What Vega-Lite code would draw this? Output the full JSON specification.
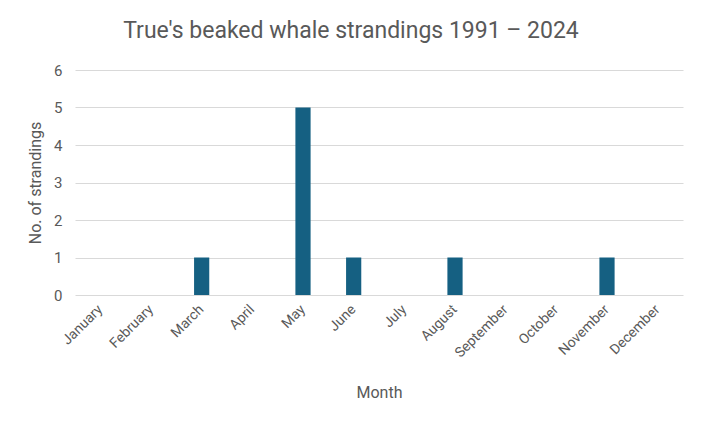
{
  "$schema": "https://vega.github.io/schema/vega-lite/v6.json",
  "autosize": "none",
  "width": 608,
  "height": 225,
  "padding": {"left": 75, "top": 70, "right": 21, "bottom": 131},
  "background": "white",
  "title": {
    "text": "True's beaked whale strandings 1991 – 2024",
    "fontSize": 23,
    "font": "Roboto",
    "fontWeight": "normal",
    "color": "#595959",
    "anchor": "middle",
    "dx": -28,
    "offset": 20
  },
  "data": {
    "values": [
      {"month": "January", "n": 0},
      {"month": "February", "n": 0},
      {"month": "March", "n": 1},
      {"month": "April", "n": 0},
      {"month": "May", "n": 5},
      {"month": "June", "n": 1},
      {"month": "July", "n": 0},
      {"month": "August", "n": 1},
      {"month": "September", "n": 0},
      {"month": "October", "n": 0},
      {"month": "November", "n": 1},
      {"month": "December", "n": 0}
    ]
  },
  "mark": {"type": "bar", "color": "#156082"},
  "encoding": {
    "x": {
      "field": "month",
      "type": "nominal",
      "sort": null,
      "scale": {"paddingInner": 0.7, "paddingOuter": 0.35},
      "axis": {
        "title": "Month",
        "labelAngle": -45,
        "labelAlign": "right",
        "labelBaseline": "middle",
        "labelFontSize": 14,
        "labelColor": "#595959",
        "labelFont": "Roboto",
        "labelPadding": 12,
        "titleFontSize": 16,
        "titleFont": "Roboto",
        "titleFontWeight": "normal",
        "titleColor": "#595959",
        "titlePadding": 25,
        "domain": false,
        "ticks": false,
        "grid": false
      }
    },
    "y": {
      "field": "n",
      "type": "quantitative",
      "scale": {"domain": [0, 6]},
      "axis": {
        "title": "No. of strandings",
        "values": [0, 1, 2, 3, 4, 5, 6],
        "labelFontSize": 15,
        "labelColor": "#595959",
        "labelFont": "Roboto",
        "labelPadding": 13,
        "titleFontSize": 16,
        "titleFont": "Roboto",
        "titleFontWeight": "normal",
        "titleColor": "#595959",
        "titlePadding": 10,
        "domain": false,
        "ticks": false,
        "grid": true,
        "gridColor": "#d9d9d9",
        "gridWidth": 1
      }
    }
  },
  "config": {"view": {"stroke": null}}
}
